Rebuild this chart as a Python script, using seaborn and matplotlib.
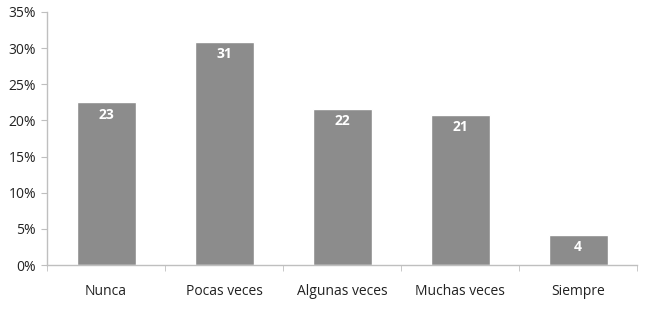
import seaborn as sns
import pandas as pd
import matplotlib.pyplot as plt
from matplotlib.ticker import FuncFormatter, FixedLocator

# Data
categories = ['Nunca', 'Pocas veces', 'Algunas veces', 'Muchas veces', 'Siempre']
percentages = [22.5, 30.9, 21.6, 20.8, 4.2]
counts = [23, 31, 22, 21, 4]

df = pd.DataFrame({'Respuesta': categories, 'Porcentaje': percentages})

sns.set_style('white')
plt.rcParams['font.family'] = ['Open Sans', 'DejaVu Sans']

fig = plt.figure(figsize=(6.45, 3.14), dpi=100)
ax = fig.add_axes([0.073, 0.156, 0.915, 0.806])

sns.barplot(data=df, x='Respuesta', y='Porcentaje', color='#8c8c8c',
            saturation=1, width=0.5, ax=ax)

# White count labels inside the top of each bar
for patch, n in zip(ax.patches, counts):
    ax.annotate(str(n), (patch.get_x() + patch.get_width() / 2, patch.get_height()),
                xytext=(0, -9), textcoords='offset points',
                ha='center', va='center', color='white',
                fontsize=10, fontweight='bold')

ax.set_ylim(0, 35)
ax.set_xlim(-0.5, 4.5)
ax.set_yticks(range(0, 36, 5))
ax.yaxis.set_major_formatter(FuncFormatter(lambda v, p: f'{int(v)}%'))
ax.set_xlabel('')
ax.set_ylabel('')

# Tick marks between categories on the x axis
ax.xaxis.set_minor_locator(FixedLocator([i - 0.5 for i in range(6)]))
ax.tick_params(axis='x', which='major', length=0, pad=14, labelsize=10, colors='#222222')
ax.tick_params(axis='x', which='minor', length=4, color='#bfbfbf', direction='out')
ax.tick_params(axis='y', length=4, color='#bfbfbf', direction='out', labelsize=10,
               labelcolor='#222222', pad=4)
ax.tick_params(bottom=True, left=True, which='both')

for side in ['top', 'right']:
    ax.spines[side].set_visible(False)
for side in ['left', 'bottom']:
    ax.spines[side].set_color('#bfbfbf')
    ax.spines[side].set_linewidth(1)

plt.savefig('out.png', dpi=100)
